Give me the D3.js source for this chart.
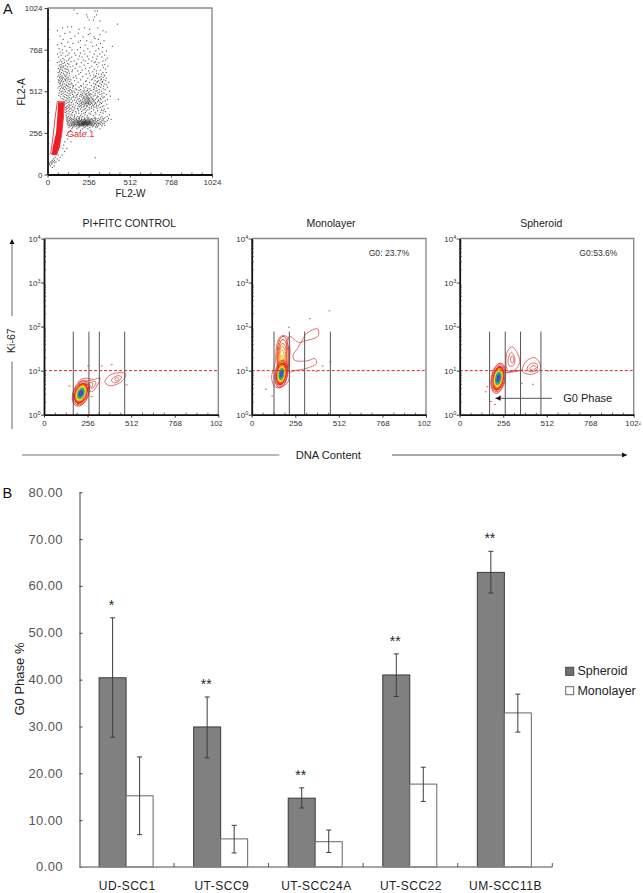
<!DOCTYPE html>
<html><head><meta charset="utf-8">
<script src="https://cdn.jsdelivr.net/npm/d3@7/dist/d3.min.js"></script>
<style>html,body{margin:0;background:#fff}svg{display:block}text{font-family:"Liberation Sans",Arial,sans-serif}</style>
</head><body><svg id="c" width="643" height="893"></svg>
<script>
// ---------- Bar chart data ----------
const categories = ["UD-SCC1","UT-SCC9","UT-SCC24A","UT-SCC22","UM-SCC11B"];
const seriesNames = ["Spheroid","Monolayer"];
const spheroid = [40.4,29.9,14.7,41.0,62.9];
const spheroidHigh = [53.2,36.3,16.9,45.5,67.4];
const spheroidLow = [27.7,23.3,12.6,36.4,58.5];
const monolayer = [15.2,6.0,5.4,17.7,32.9];
const monolayerHigh = [23.5,8.9,7.9,21.3,36.9];
const monolayerLow = [6.9,3.0,3.1,14.0,28.8];
const stars = ["*","**","**","**","**"];
const barTicks = [0,10,20,30,40,50,60,70,80];
// ---------- Flow cytometry data ----------
const linTicks = [0,256,512,768,1024];
const minorLin = [64,128,192,320,384,448,576,640,704,832,896,960];
const logTicks = [1,10,100,1000,10000];
const logMinor = [2,3,4,5,6,7,8,9,20,30,40,50,60,70,80,90,200,300,400,500,600,700,800,900,2000,3000,4000,5000,6000,7000,8000,9000];
const panelTitles = ["PI+FITC CONTROL","Monolayer","Spheroid"];
const panelNotes = ["","G0: 23.7%","G0:53.6%"];
const gates = [[172,264,325,474],[131,221,311,462],[176,268,358,478]];
const gateTop = 77;
const threshold = 10;
// scatter: each row is [FL2-A, [FL2-W values]]
const scatterRows = [
[1012,[165]],[1006,[296,311]],[990,[184]],[982,[305,244]],[968,[250,293]],[950,[286,259]],[944,[327]],[925,[435]],[908,[125,150]],[902,[94,229,313]],
[893,[262,196]],[884,[62,345]],[876,[140,365]],[868,[192,108,265]],[861,[254,327]],[852,[78,171]],[846,[222,289]],[836,[146,296]],[831,[317,98]],[823,[244,352,205]],
[814,[192,270,126]],[806,[330,88,158]],[797,[234,305,61]],[788,[404,108,281]],[781,[343,205,139]],[774,[72,251,318]],[767,[152,92,187]],[760,[226,367,301,118]],
[753,[79,263,341]],[747,[134,205,168,96]],[741,[291,326,62,233]],[734,[127,176,356,85]],[728,[249,113,198,310]],[722,[70,216,281,338,151]],[715,[96,372,138]],[710,[191,306,257]],
[704,[81,131,362,223,104]],[698,[119,235,276,345,165]],[693,[88,72,299,146]],[688,[106,211,321,61,290]],[683,[126,97,252,182]],[677,[84,133,179,356,306]],[672,[73,113,229,343]],
[667,[91,159,276,376,101]],[662,[141,202,313,124,78]],[657,[97,263,347,84]],[652,[68,109,172,236]],[647,[82,291,361,127,117]],[642,[93,216,329,155,74]],[637,[132,188,256,103,304]],
[632,[76,114,152,282]],[627,[87,346,366,206,66,123]],[622,[99,306,137,261]],[617,[80,121,196,241,336,319]],[612,[71,105,287,352]],[607,[91,136,266,301,356,176,115]],
[602,[83,111,219,333,64,298]],[597,[97,128,289,346,161,323,75]],[592,[119,181,251,311,88,366]],[587,[79,94,107,336,279,134]],[582,[68,126,206,273,331,351,146,112]],
[577,[89,113,296,319,363,169,73,241]],[572,[101,136,236,84,312,342]],[567,[69,122,191,262,341,306,381]],[562,[96,81,147,286,327]],[557,[108,131,152,224,353,75,298]],
[552,[93,117,139,176,246,301,336,366]],[547,[207,84,121,273,316,159]],[542,[72,103,127,161,212,319,349,291]],[537,[88,112,197,239,331,373,142]],[532,[65,133,156,291,304,226,98]],
[527,[96,119,173,264,346,81,251]],[522,[107,141,181,206,287,322,359]],[517,[76,129,151,249,271,308,229,196]],[512,[91,113,136,166,222,241,301,337,386]],[507,[103,84,154,259,284,322,209]],
[502,[73,123,146,191,229,253,313,351,171]],[497,[96,134,241,266,296,339,217]],[492,[86,109,156,206,236,258,276,326,366,186]],[487,[119,141,179,216,244,263,296,71]],
[482,[98,128,201,226,251,286,339,391,311,163]],[477,[106,81,161,232,246,269,316,353,183,211]],[472,[117,136,173,256,241,274,306,346,151,223]],[467,[92,126,197,228,247,262,283,329]],
[462,[101,146,189,219,239,255,279,299,333,373,441]],[457,[113,133,207,233,251,263,287,317,168]],[452,[121,156,226,246,258,272,291,321,359,181,203]],[447,[108,138,196,216,236,251,264,284,311,343]],
[442,[128,176,226,242,255,271,297,329,149,212]],[437,[116,187,209,236,247,257,276,301,336]],[432,[133,161,221,231,254,269,293,323,369,198]],[427,[107,146,212,241,262,306,281]],
[422,[126,173,206,229,249,286,316,351,191,138]],[417,[119,156,199,223,243,273,303,341]],[412,[111,133,166,212,259,291,328]],[407,[146,186,236,276,309,376,122]],
[402,[117,171,206,229,263,353,189,137]],[397,[109,152,221,251,286,336]],[392,[129,193,241,311,161,346]],[387,[119,176,213,273,361,141]],[382,[111,156,236,296,331]],
[377,[133,196,226,259,346,179]],[372,[121,151,301,268,211]],[367,[139,169,233,323,386]],[362,[116,206,286,153,248]],[357,[131,189,219,339,371,169]],[352,[123,143,246,296,199]],
[348,[117,166,229,256,331,356,181,212]],[345,[136,151,273,291,316,346,379,196]],[342,[126,172,233,251,197,301]],[339,[143,161,212,229,263,279,326,396,181]],
[336,[119,153,198,241,252,299,346,222,271]],[333,[136,169,186,213,236,289,311,339,373,258,207]],[330,[128,149,177,225,248,264,281,319,196,238]],
[327,[121,163,191,205,217,232,243,258,271,297,352,183,229]],[324,[141,156,172,199,226,236,253,263,286,306,329,363,214]],[321,[129,166,186,208,221,241,249,268,276,336,196,232,259]],
[318,[146,161,178,193,213,228,238,254,264,291,313,186,221,246]],[315,[123,154,171,201,217,233,243,259,272,299,323,353,208,226,281]],[312,[139,166,183,196,211,226,236,251,266,293,316,343,218,243,258]],
[309,[127,149,176,189,204,221,231,246,256,271,306,331,196,214,238]],[306,[159,171,186,199,213,228,241,262,279,289,166,224,249]],[303,[136,153,181,206,219,234,252,274,318,357,194]],
[300,[128,148,166,197,212,243,266,286,306,339,226]],[297,[159,183,221,251,296,141,203]],[293,[172,236,279,311,198]],[288,[133,156,191,229,263,301]],[281,[151,183,216,251,326]],
[271,[143,206,266]],[259,[131,176,241]],[241,[119,161]],[219,[126]],[201,[108,146]],[181,[101]],[161,[96,121]],[141,[106]],[103,[297]],[119,[66,91]],[106,[48,78]],[96,[38,61]],[87,[29,43,71]],[79,[22,36,53]],[72,[15,29,46]],[64,[12,26]],[53,[19,41]],[43,[31]]
];
const gateOutline = [[61,448],[105,448],[100,360],[88,240],[57,126],[20,130],[32,215],[47,346]];
const gateFill = [[66,445],[103,445],[99,355],[89,255],[78,171],[57,118],[26,120],[33,171],[53,255],[61,355]];
// contours: [FL x, log10 y] points
const contours = [
 [ [[202,.75],[241,.83],[290,.80],[329,.83],[313,.67],[280,.52],[260,.58],[211,.67]],
   [[245,.76],[290,.76],[305,.74],[285,.6],[262,.64]],
   [[265,.72],[285,.72],[280,.62]],
   [[358,.75],[388,.90],[446,.955],[481,.924],[466,.79],[417,.674],[378,.667]],
   [[397,.79],[427,.88],[456,.864],[436,.75],[407,.727]],
   [[415,.81],[430,.84],[440,.8],[425,.77]] ],
 [ [[117,.826],[137,1.167],[152,1.66],[176,1.79],[211,1.76],[225,1.47],[219,1.09],[219,.79],[186,.65],[141,.62]],
   [[219,1.773],[283,1.637],[323,1.849],[387,1.948],[391,1.788],[323,1.682],[289,1.637],[274,1.53],[244,1.356],[250,1.243],[323,1.22],[372,1.273],[381,1.167],[323,1.053],[254,1.0],[219,.977]] ],
 [ [[272,1.242],[285,1.47],[309,1.538],[334,1.432],[354,1.205],[324,1.015],[285,.992]],
   [[285,1.265],[305,1.417],[324,1.28],[315,1.113],[291,1.113]],
   [[299,1.265],[309,1.34],[319,1.242],[309,1.167]],
   [[370,1.053],[393,1.22],[442,1.295],[475,1.129],[471,1.015],[422,.917],[373,.962]],
   [[397,1.053],[422,1.167],[456,1.144],[452,1.015],[413,.977]],
   [[413,1.05],[432,1.114],[452,1.076],[428,1.008]],
   [[270,.95],[310,.99],[370,1.01]] ]
];
const specks = [
 [[260,1.106],[339,1.106],[397,1.136],[149,.65],[485,.68],[280,.41]],
 [[219,1.985],[342,2.18],[456,2.357],[463,1.2],[416,1.106],[381,.977],[84,.577],[121,.425]],
 [[364,.712],[432,.69],[520,.99],[162,.636],[154,.52],[207,.234],[240,.42],[185,.3]]
];
const cores = [[217,.486,38,.25,20],[174,.925,31,.26,8],[227,.827,34,.285,10]];
const coreLevels = [[1,"#e8201c"],[.85,"#f4791c"],[.71,"#f6df1e"],[.55,"#3cb34a"],[.41,"#1f9db0"],[.28,"#2b4fc0"],[.14,"#8f2fe0"]];
const coreRings = [1.22,1.1];
const plumeRings = [[184,1.31,36,.47,"#e23c30"],[184,1.29,31,.42,"#e8502c"],[182,1.26,26,.36,"#f0642a"],[180,1.24,21,.31,"#f58a26"],[178,1.2,16,.27,"#f7a92a"],[176,1.15,12,.22,"#f8c83a"]];

const svg = d3.select("#c");
const RED="#d8232a";

function frame(g,x,y){
  const [x0,x1]=x.range(),[y0,y1]=y.range();
  g.append("path").attr("d",`M${x0},${y1}H${x1}V${y0}`).attr("fill","none").attr("stroke","#8a8a8a").attr("stroke-width",1.4);
}
function styleAxis(sel,col){sel.selectAll("path").attr("stroke",col).attr("stroke-width",1.8);
  sel.selectAll("line").attr("stroke",col).attr("stroke-width",.8);
  sel.selectAll("text").attr("fill","#333").attr("font-size",8).attr("font-family","Liberation Sans");}

// ---------- A: scatter ----------
(function(){
  const x=d3.scaleLinear([0,1024],[47.5,212]), y=d3.scaleLinear([0,1024],[174.5,8]);
  const g=svg.append("g");
  frame(g,x,y);
  const pts=scatterRows.flatMap(([v,xs])=>xs.map(w=>[w,v]));
  g.selectAll("rect.p").data(pts).join("rect").attr("class","p")
    .attr("x",d=>x(d[0])-.55).attr("y",d=>y(d[1])-.55).attr("width",1.1).attr("height",1.1).attr("fill","#111").attr("opacity",.72);
  const line=d3.line().x(d=>x(d[0])).y(d=>y(d[1])).curve(d3.curveLinearClosed);
  g.append("path").attr("d",line(gateFill)).attr("fill","#ee1c24");
  g.append("path").attr("d",line(gateOutline)).attr("fill","none").attr("stroke","#e8323a").attr("stroke-width",.9);
  g.append("text").attr("x",x(120)).attr("y",y(230)).attr("fill","#e8323a").attr("font-size",9.2).text("Gate.1");
  const ax=g.append("g").attr("transform",`translate(0,${y(0)})`).call(d3.axisBottom(x).tickValues(linTicks).tickSize(3).tickPadding(2).tickSizeOuter(0).tickFormat(String));
  const ay=g.append("g").attr("transform",`translate(${x(0)},0)`).call(d3.axisLeft(y).tickValues(linTicks).tickSize(3).tickPadding(2).tickSizeOuter(0).tickFormat(String));
  styleAxis(ax,"#111");styleAxis(ay,"#111");
  const minor=s=>{s.select("path").remove();s.selectAll("line").attr("stroke","#222").attr("stroke-width",.7)};
  g.append("g").attr("transform",`translate(0,${y(0)})`).call(d3.axisBottom(x).tickValues(minorLin).tickSize(-2).tickFormat("")).call(minor);
  g.append("g").attr("transform",`translate(${x(0)},0)`).call(d3.axisLeft(y).tickValues(minorLin).tickSize(-2).tickFormat("")).call(minor);
  g.append("text").attr("x",130.5).attr("y",197).attr("text-anchor","middle").attr("font-size",10).attr("fill","#222").text("FL2-W");
  g.append("text").attr("transform","translate(25,92) rotate(-90)").attr("text-anchor","middle").attr("font-size",10).attr("fill","#222").text("FL2-A");
})();

// ---------- A: contour panels ----------
const panelLeft=[44,251.7,459.7], panelRight=[218.3,426,633.7], labelClip=[222,431,640.7], titleCx=[129.3,331,541.3];
panelLeft.forEach((L,i)=>{
  const x=d3.scaleLinear([0,1024],[L,panelRight[i]]), y=d3.scaleLog([1,10000],[414.7,238.5]);
  const ly=v=>y(Math.pow(10,v));
  const g=svg.append("g");
  frame(g,x,y);
  const rx=u=>x(u)-x(0), ry=u=>414.7-ly(u);
  const ell=(cx,cy,a,b,t,s)=>g.append("ellipse").attr("transform",`translate(${x(cx)},${ly(cy)}) rotate(${t})`).attr("rx",rx(a)*s).attr("ry",ry(b)*s);
  if(i===1) plumeRings.forEach((p,k)=>ell(p[0],p[1],p[2],p[3],0,1).attr("fill",k===5?"#fbe08a":"none").attr("stroke",p[4]).attr("stroke-width",1));
  const line=d3.line().x(d=>x(d[0])).y(d=>ly(d[1])).curve(d3.curveCatmullRomClosed.alpha(.5));
  g.selectAll("path.ct").data(contours[i]).join("path").attr("class","ct").attr("d",line).attr("fill","none").attr("stroke","#d84a4a").attr("stroke-width",.8);
  g.selectAll("rect.sp").data(specks[i]).join("rect").attr("class","sp").attr("x",d=>x(d[0])-1).attr("y",d=>ly(d[1])-.5).attr("width",2).attr("height",1).attr("fill","#d86a6a");
  const c=cores[i];
  coreRings.forEach(s=>ell(c[0],c[1],c[2],c[3],c[4],s).attr("fill","none").attr("stroke","#dc3030").attr("stroke-width",.8));
  coreLevels.forEach(([s,col])=>ell(c[0],c[1],c[2],c[3],c[4],s).attr("fill",col));
  g.append("line").attr("x1",x(0)).attr("x2",x(1024)).attr("y1",y(threshold)).attr("y2",y(threshold)).attr("stroke",RED).attr("stroke-width",1).attr("stroke-dasharray","3,2");
  g.selectAll("line.gt").data(gates[i]).join("line").attr("class","gt").attr("x1",d=>x(d)).attr("x2",d=>x(d)).attr("y1",y(1)).attr("y2",y(gateTop)).attr("stroke","#555").attr("stroke-width",1);
  const clip="cp"+i;
  svg.append("clipPath").attr("id",clip).append("rect").attr("x",L-10).attr("y",405).attr("width",labelClip[i]-L+10).attr("height",30);
  const ax=g.append("g").attr("clip-path",`url(#${clip})`);
  const ax2=ax.append("g").attr("transform",`translate(0,${y(1)})`).call(d3.axisBottom(x).tickValues(linTicks).tickSize(3).tickPadding(3).tickSizeOuter(0).tickFormat(String));
  styleAxis(ax2,"#111");
  const ay=g.append("g").attr("transform",`translate(${L},0)`).call(d3.axisLeft(y).tickValues(logTicks).tickSize(3).tickPadding(9).tickSizeOuter(0).tickFormat(""));
  styleAxis(ay,"#111");
  ay.selectAll(".tick").each(function(d){
    const t=d3.select(this).append("text").attr("x",-3.5).attr("dy","3").attr("text-anchor","end").attr("fill","#333").attr("font-size",8);
    t.append("tspan").text("10");
    t.append("tspan").attr("dy","-3").attr("font-size",5.5).text(Math.round(Math.log10(d)));
  });
  const minor=(s)=>{s.select("path").remove();s.selectAll("line").attr("stroke","#222").attr("stroke-width",.7)};
  g.append("g").attr("transform",`translate(0,${y(1)})`).call(d3.axisBottom(x).tickValues(minorLin).tickSize(-2).tickFormat("")).call(minor);
  g.append("g").attr("transform",`translate(${L},0)`).call(d3.axisLeft(y).tickValues(logMinor).tickSize(-2).tickFormat("")).call(minor);
  g.append("text").attr("x",titleCx[i]).attr("y",227).attr("text-anchor","middle").attr("font-size",10.5).attr("fill","#222").text(panelTitles[i]);
  if(panelNotes[i]) g.append("text").attr("x",i===1?368.7:579.3).attr("y",255.5).attr("font-size",8.6).attr("fill","#333").text(panelNotes[i]);
});
function arrowH(x1,x2,y,head){
  svg.append("line").attr("x1",x1).attr("x2",x2).attr("y1",y).attr("y2",y).attr("stroke","#555").attr("stroke-width",1);
  const d=x2>x1?1:-1;
  svg.append("path").attr("d",`M${x2},${y}l${-d*head},-2.5v5z`).attr("fill","#111");
}
arrowH(551.7,495.5,398.3,5);
svg.append("text").attr("x",563.3).attr("y",402).attr("font-size",11).attr("fill","#222").text("G0 Phase");
svg.append("path").attr("d","M12,243V316M12,361.7V429").attr("stroke","#666").attr("stroke-width",1).attr("fill","none");
svg.append("path").attr("d","M12,239l-2.5,5h5z").attr("fill","#111");
svg.append("text").attr("transform","translate(15,340.7) rotate(-90)").attr("text-anchor","middle").attr("font-size",10.5).attr("fill","#222").text("Ki-67");
svg.append("line").attr("x1",22).attr("x2",279.3).attr("y1",455).attr("y2",455).attr("stroke","#777");
arrowH(392,627,455,5);
svg.append("text").attr("x",328.3).attr("y",459).attr("text-anchor","middle").attr("font-size",11.2).attr("fill","#222").text("DNA Content");
svg.append("text").attr("x",3).attr("y",14).attr("font-size",14.5).attr("fill","#111").text("A");
svg.append("text").attr("x",2.5).attr("y",498).attr("font-size",14.5).attr("fill","#111").text("B");

// ---------- B: bars ----------
(function(){
  const x=d3.scaleBand(categories,[79.5,552.3]).padding(0);
  const inner=d3.scaleBand(seriesNames,[19.6,73.6]).padding(0);
  const y=d3.scaleLinear([0,80],[867,492.3]);
  const g=svg.append("g");
  const rows=categories.map((c,i)=>({c,i,v:[spheroid[i],monolayer[i]],h:[spheroidHigh[i],monolayerHigh[i]],l:[spheroidLow[i],monolayerLow[i]]}));
  seriesNames.forEach((s,k)=>{
    g.selectAll("rect.b"+k).data(rows).join("rect").attr("class","b"+k)
      .attr("x",d=>x(d.c)+inner(s)).attr("width",inner.bandwidth())
      .attr("y",d=>y(d.v[k])).attr("height",d=>y(0)-y(d.v[k]))
      .attr("fill",k?"#fff":"#808080").attr("stroke",k?"#666":"#3a3a3a").attr("stroke-width",1);
    const cx=d=>x(d.c)+inner(s)+inner.bandwidth()/2;
    const err=g.selectAll("g.e"+k).data(rows).join("g").attr("class","e"+k).attr("stroke","#3c3c3c").attr("stroke-width",1);
    err.append("line").attr("x1",cx).attr("x2",cx).attr("y1",d=>y(d.h[k])).attr("y2",d=>y(d.l[k]));
    err.append("line").attr("x1",d=>cx(d)-2.5).attr("x2",d=>cx(d)+2.5).attr("y1",d=>y(d.h[k])).attr("y2",d=>y(d.h[k]));
    err.append("line").attr("x1",d=>cx(d)-2.5).attr("x2",d=>cx(d)+2.5).attr("y1",d=>y(d.l[k])).attr("y2",d=>y(d.l[k]));
  });
  g.selectAll("text.s").data(rows).join("text").attr("class","s")
    .attr("x",d=>x(d.c)+inner("Spheroid")+inner.bandwidth()/2-1).attr("y",d=>y(d.h[0])-8.3)
    .attr("text-anchor","middle").attr("font-size",14).attr("fill","#222").text(d=>stars[d.i]);
  const ay=g.append("g").attr("transform","translate(79.5,0)").call(d3.axisRight(y).tickValues(barTicks).tickSize(3).tickFormat(d=>d.toFixed(2)));
  ay.select("path").attr("stroke","#444").attr("stroke-width",1).attr("d",`M0.5,${y(80)}V${y(0)}`);
  ay.selectAll("line").attr("stroke","#444");
  ay.selectAll("text").attr("x",-16.5).attr("text-anchor","end").attr("font-family","Liberation Serif").attr("font-size",13).attr("letter-spacing",.4).attr("fill","#555").attr("dy","0.3em");
  const edges=categories.map(c=>x(c)).concat([x.range()[1]]);
  g.append("line").attr("x1",79.5).attr("x2",552.3).attr("y1",y(0)).attr("y2",y(0)).attr("stroke","#888").attr("stroke-width",1.6);
  g.selectAll("line.t").data(edges.slice(1)).join("line").attr("class","t").attr("x1",d=>d).attr("x2",d=>d).attr("y1",y(0)-4).attr("y2",y(0)).attr("stroke","#555");
  g.selectAll("text.c").data(categories).join("text").attr("class","c")
    .attr("x",c=>x(c)+x.bandwidth()/2+.5).attr("y",889.5).attr("text-anchor","middle").attr("font-size",12).attr("letter-spacing",.5).attr("fill","#222").text(c=>c);
  g.append("text").attr("transform","translate(24,679) rotate(-90)").attr("text-anchor","middle").attr("font-size",13).attr("fill","#222").text("G0 Phase %");
  const lg=g.selectAll("g.l").data(seriesNames).join("g").attr("class","l").attr("transform",(d,i)=>`translate(565.7,${667.3+i*19.4})`);
  lg.append("rect").attr("width",8).attr("height",8).attr("fill",(d,i)=>i?"#fff":"#707070").attr("stroke",(d,i)=>i?"#666":"#444");
  lg.append("text").attr("x",11.7).attr("y",8).attr("font-size",12.5).attr("fill","#222").text(d=>d);
})();
</script></body></html>
